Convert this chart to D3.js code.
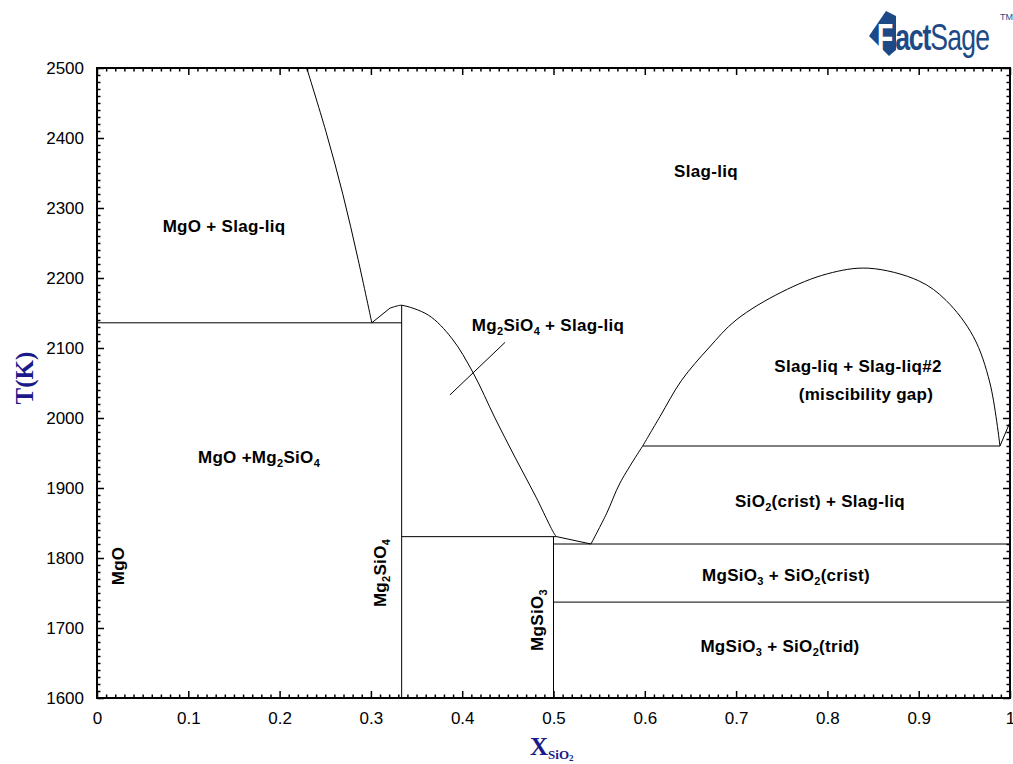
<!DOCTYPE html>
<html><head><meta charset="utf-8">
<script src="https://cdn.jsdelivr.net/npm/d3@7"></script>
<style>body{margin:0;background:#fff}svg{display:block}</style>
</head><body>
<svg id="c" width="1013" height="764"></svg>
<script>
// ---- data (x = mole fraction SiO2, T in K) ----
const xTicks = [0,0.1,0.2,0.3,0.4,0.5,0.6,0.7,0.8,0.9,1];
const yTicks = [1600,1700,1800,1900,2000,2100,2200,2300,2400,2500];
const liqMgO = [[0.2297,2500],[0.2508,2409],[0.2694,2319],[0.2859,2227],[0.301,2136]];
const liqMg2SiO4 = [[0.301,2136],[0.3209,2157],[0.330,2160.5],[0.334,2161],[0.3629,2147],[0.3885,2114],[0.4122,2064],[0.4359,2000],[0.4578,1944],[0.4797,1890],[0.5016,1833],[0.5035,1830.5]];
const liqMgSiO3 = [[0.5035,1830.5],[0.541,1820]];
const liqSiO2 = [[0.541,1820],[0.5583,1864],[0.5728,1907],[0.5977,1960]];
const gapDome = [[0.5977,1960],[0.6166,2002],[0.6404,2054],[0.67,2100],[0.7,2140],[0.75,2180],[0.8,2206],[0.845,2214],[0.9,2196],[0.93,2168],[0.96,2116],[0.978,2050],[0.989,1960]];
const liqSiO2b = [[0.989,1960],[1.0,1994]];
const pointer = [[0.3866,2033],[0.4469,2108]];
// invariant lines: [x1, x2, T]
const isotherms = [[0,0.3337,2136],[0.3337,0.5035,1830.5],[0.5,1,1820],[0.5,1,1737],[0.5977,0.989,1960]];
// compound lines: [x, Tmin, Tmax]
const compounds = [[0.3337,1600,2161],[0.5,1600,1830.5]];

const svg = d3.select("#c");
const x = d3.scaleLinear().domain([0,1]).range([97,1010]);
const y = d3.scaleLinear().domain([1600,2500]).range([698,68]);
const smooth = d3.line().x(d=>x(d[0])).y(d=>y(d[1])).curve(d3.curveCatmullRom.alpha(0.5));
const straight = d3.line().x(d=>x(d[0])).y(d=>y(d[1]));
const g = svg.append("g");

// curves
[liqMgO, liqSiO2, gapDome].forEach(d=>{
  g.append("path").attr("d", smooth(d)).attr("fill","none").attr("stroke","#000").attr("stroke-width",1);
});
g.append("path").attr("d", straight(liqMg2SiO4.slice(0,2))).attr("fill","none").attr("stroke","#000");
g.append("path").attr("d", smooth(liqMg2SiO4.slice(1))).attr("fill","none").attr("stroke","#000");
[liqMgSiO3, liqSiO2b, pointer].forEach(d=>{
  g.append("path").attr("d", straight(d)).attr("fill","none").attr("stroke","#000").attr("stroke-width",1);
});
isotherms.forEach(d=>{
  g.append("line").attr("x1",x(d[0])).attr("x2",x(d[1])).attr("y1",y(d[2])).attr("y2",y(d[2])).attr("stroke","#000").attr("stroke-width",1);
});
compounds.forEach(d=>{
  g.append("line").attr("x1",x(d[0])).attr("x2",x(d[0])).attr("y1",y(d[1])).attr("y2",y(d[2])).attr("stroke","#000").attr("stroke-width",1);
});

// axes
const fmt = d => d===0?"0":d===1?"1":d.toFixed(1);
const xMinor = d3.range(0,101).map(i=>i/100).filter(v=>Math.round(v*100)%10!==0);
const yMinor = d3.range(1600,2501,10).filter(v=>v%100!==0);
const styleAxis = sel => { sel.select(".domain").remove(); sel.selectAll("line").attr("stroke","#000").attr("stroke-width",1.5);
  sel.selectAll("text").attr("font-family","Liberation Sans, Arial, sans-serif").attr("font-size",17).attr("fill","#000"); };
const bare = sel => { sel.select(".domain").remove(); sel.selectAll("text").remove(); sel.selectAll("line").attr("stroke","#000").attr("stroke-width",1.5); };

g.append("g").attr("transform",`translate(0,${y(1600)})`).call(d3.axisBottom(x).tickValues(xTicks).tickSizeInner(-7).tickSizeOuter(0).tickPadding(14).tickFormat(fmt)).call(styleAxis);
g.append("g").attr("transform",`translate(0,${y(1600)})`).call(d3.axisBottom(x).tickValues(xMinor).tickSize(-3.5)).call(bare);
g.append("g").attr("transform",`translate(0,${y(2500)})`).call(d3.axisTop(x).tickValues(xTicks).tickSize(-7)).call(bare);
g.append("g").attr("transform",`translate(0,${y(2500)})`).call(d3.axisTop(x).tickValues(xMinor).tickSize(-3.5)).call(bare);
g.append("g").attr("transform",`translate(${x(0)},0)`).call(d3.axisLeft(y).tickValues(yTicks).tickSizeInner(-7).tickSizeOuter(0).tickPadding(13).tickFormat(d3.format("d"))).call(styleAxis);
g.append("g").attr("transform",`translate(${x(0)},0)`).call(d3.axisLeft(y).tickValues(yMinor).tickSize(-3.5)).call(bare);
g.append("g").attr("transform",`translate(${x(1)},0)`).call(d3.axisRight(y).tickValues(yTicks).tickSize(-7)).call(bare);
g.append("g").attr("transform",`translate(${x(1)},0)`).call(d3.axisRight(y).tickValues(yMinor).tickSize(-3.5)).call(bare);

// frame
g.append("rect").attr("x",x(0)).attr("y",y(2500)).attr("width",x(1)-x(0)).attr("height",y(1600)-y(2500))
 .attr("fill","none").attr("stroke","#000").attr("stroke-width",2);

// labels
const lab = (px,py,parts,rot)=>{
  const t = g.append("text").attr("font-family","Liberation Sans, Arial, sans-serif").attr("font-weight","bold")
    .attr("font-size",17).attr("letter-spacing",0.3).attr("text-anchor","middle").attr("fill","#000");
  if(rot) t.attr("transform",`translate(${px},${py}) rotate(-90)`); else t.attr("x",px).attr("y",py);
  let low = false;
  parts.forEach(p=>{
    if(typeof p==="string"){ const s=t.append("tspan").text(p); if(low){ s.attr("dy",-4); low=false; } }
    else { t.append("tspan").text(p.s).attr("font-size",11).attr("dy",4); low=true; }
  });
};
lab(706,177,["Slag-liq"]);
lab(224,232,["MgO + Slag-liq"]);
lab(548,331,["Mg",{s:"2"},"SiO",{s:"4"}," + Slag-liq"]);
lab(858,372,["Slag-liq + Slag-liq#2"]);
lab(866,400,["(miscibility gap)"]);
lab(259,463,["MgO +Mg",{s:"2"},"SiO",{s:"4"}]);
lab(820,507,["SiO",{s:"2"},"(crist) + Slag-liq"]);
lab(786,581,["MgSiO",{s:"3"}," + SiO",{s:"2"},"(crist)"]);
lab(780,652,["MgSiO",{s:"3"}," + SiO",{s:"2"},"(trid)"]);
lab(124,566,["MgO"],true);
lab(386,573,["Mg",{s:"2"},"SiO",{s:"4"}],true);
lab(543,620,["MgSiO",{s:"3"}],true);

// axis titles
const blue = "#1a1a8a";
svg.append("text").attr("transform","translate(33,378) rotate(-90)").attr("text-anchor","middle")
  .attr("font-family","Liberation Serif, Times New Roman, serif").attr("font-weight","bold").attr("font-size",25).attr("fill",blue).text("T(K)");
const xt = svg.append("text").attr("x",530).attr("y",755).attr("font-family","Liberation Serif, Times New Roman, serif").attr("font-weight","bold").attr("fill",blue);
xt.append("tspan").attr("font-size",25).text("X");
xt.append("tspan").attr("font-size",13).attr("dy",4).text("SiO");
xt.append("tspan").attr("font-size",9).attr("dy",2).text("2");

// FactSage logo
const logoBlue = "#1d4a86";
const logo = svg.append("g");
logo.append("path").attr("d","M869,36 L886,11 L896,16 L896,50 L889,56 Z").attr("fill",logoBlue);
const lt = logo.append("text").attr("transform","translate(877,50) scale(0.95,1.3)").attr("font-family","Liberation Sans, Arial, sans-serif").attr("font-weight","bold").attr("font-size",28);
lt.append("tspan").attr("fill","#fff").attr("letter-spacing",2).text("F");
lt.append("tspan").attr("fill",logoBlue).attr("letter-spacing",-1.2).text("act");
lt.append("tspan").attr("fill",logoBlue).attr("font-weight","normal").attr("font-family","Liberation Sans Narrow, Liberation Sans, sans-serif").attr("font-size",28).attr("letter-spacing",-0.8).text("Sage");
logo.append("text").attr("x",1000).attr("y",20).attr("font-family","Liberation Sans, Arial, sans-serif").attr("font-size",9).attr("fill",logoBlue).text("TM");
</script>
</body></html>
